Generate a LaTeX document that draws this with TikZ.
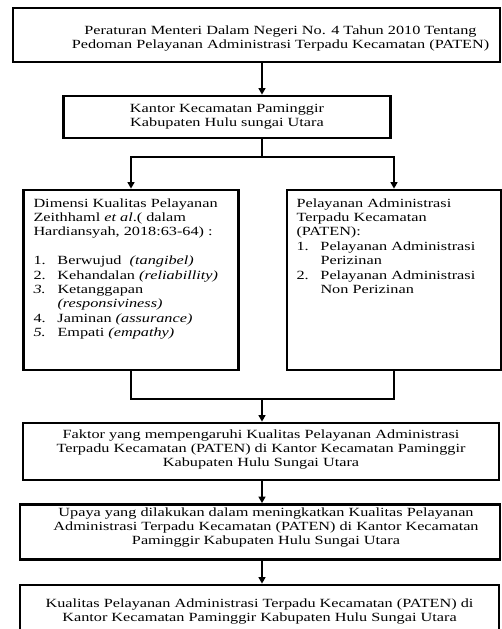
\documentclass[tikz,border=0pt]{standalone}
\usepackage{fontspec}
\setmainfont{Liberation Serif}[FakeStretch=1.3]
\usetikzlibrary{arrows.meta}

\tikzset{every picture/.style={line width=1.3pt}}
\tikzset{
  box/.style={draw, rectangle, line width=2.8pt, inner sep=0pt, font=\fontsize{12.5}{14}\selectfont},
  listbox/.style={box, font=\fontsize{12.5}{14.4}\selectfont},
  arr/.style={line width=1.4pt, -{Triangle[width=7pt,length=6.5pt]}},
  ln/.style={line width=1.4pt}
}

\begin{document}
\begin{tikzpicture}[x=1pt,y=1pt,yscale=-1,xscale=1]
\useasboundingbox (0,0) rectangle (502,629);

% axis of the straight arrows
\coordinate (axis) at (262,0);

% Boxes
\node [box, minimum width=487, minimum height=54] (perm) at (256.5,35)
  {\hspace*{48pt}\raisebox{-4pt}[\height][\depth]{\begin{tabular}{@{}c@{}}Peraturan Menteri Dalam Negeri No. 4 Tahun 2010 Tentang\\Pedoman Pelayanan Administrasi Terpadu Kecamatan (PATEN)\end{tabular}}};
\node [box, minimum width=327, minimum height=42] (kantor) at (227,117)
  {\begin{tabular}{@{}c@{}}Kantor Kecamatan Paminggir\\Kabupaten Hulu sungai Utara\end{tabular}};
\node [listbox, minimum width=215, minimum height=180] (dimensi) at (131,280)
  {\begin{minipage}[t][163pt][t]{195pt}\raggedright
   Dimensi Kualitas Pelayanan Zeithhaml \textit{et al}.( dalam Hardiansyah, 2018:63-64) :\par
   \vspace{14.4pt}
   \makebox[24pt][l]{1.}Berwujud \ \textit{(tangibel)}\par
   \makebox[24pt][l]{2.}Kehandalan \textit{(reliabillity)}\par
   \makebox[24pt][l]{\textit{3.}}Ketanggapan\par
   \hspace*{24pt}\textit{(responsiviness)}\par
   \makebox[24pt][l]{4.}Jaminan \textit{(assurance)}\par
   \makebox[24pt][l]{\textit{5.}}Empati \textit{(empathy)}\par
   \end{minipage}};
\node [listbox, minimum width=214, minimum height=180] (paten) at (394,280)
  {\begin{minipage}[t][163pt][t]{195pt}\raggedright
   Pelayanan Administrasi Terpadu Kecamatan (PATEN):\par
   \makebox[24pt][l]{1.}Pelayanan Administrasi\par
   \hspace*{24pt}Perizinan\par
   \makebox[24pt][l]{2.}Pelayanan Administrasi\par
   \hspace*{24pt}Non Perizinan\par
   \end{minipage}};
\node [box, minimum width=476, minimum height=57] (faktor) at (261,451.5)
  {\raisebox{2pt}[\height][\depth]{\begin{tabular}{@{}c@{}}Faktor yang mempengaruhi Kualitas Pelayanan Administrasi\\Terpadu Kecamatan (PATEN) di Kantor Kecamatan Paminggir\\Kabupaten Hulu Sungai Utara\end{tabular}}};
\node [box, minimum width=480, minimum height=55] (upaya) at (260,532)
  {\hspace*{12pt}\raisebox{4pt}[\height][\depth]{\begin{tabular}{@{}c@{}}Upaya yang dilakukan dalam meningkatkan Kualitas Pelayanan\\Administrasi Terpadu Kecamatan (PATEN) di Kantor Kecamatan\\Paminggir Kabupaten Hulu Sungai Utara\end{tabular}}};
\node [box, minimum width=479, minimum height=60] (kualitas) at (259.5,615)
  {\raisebox{3pt}[\height][\depth]{\begin{tabular}{@{}c@{}}Kualitas Pelayanan Administrasi Terpadu Kecamatan (PATEN) di\\Kantor Kecamatan Paminggir Kabupaten Hulu Sungai Utara\end{tabular}}};

% Connectors
\draw [arr] (perm.south -| axis) -- (kantor.north -| axis);
\coordinate (split) at (262,157);
\draw [ln] (kantor.south -| axis) -- (split);
\draw [arr] (split) -| (dimensi.north);
\draw [arr] (split) -| (paten.north);
\coordinate (join) at (262,399);
\draw [ln] (dimensi.south) |- (join) -| (paten.south);
\draw [arr] (join) -- (faktor.north -| axis);
\draw [arr] (faktor.south -| axis) -- (upaya.north -| axis);
\draw [arr] (upaya.south -| axis) -- (kualitas.north -| axis);

\end{tikzpicture}
\end{document}
